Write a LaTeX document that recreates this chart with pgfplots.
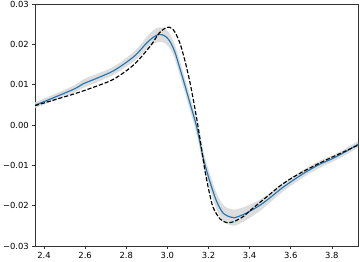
\documentclass[border=0pt]{standalone}
\usepackage{fontspec}
\setmainfont{DejaVu Sans}
\usepackage{pgfplots}
\usepackage{pgfplotstable}
\pgfplotsset{compat=1.18}
\usepgfplotslibrary{fillbetween}

\pgfplotstableread{
x mean lo hi
2.356 0.0049 0.0042 0.0056
2.448 0.0068 0.0060 0.0076
2.546 0.0089 0.0080 0.0098
2.594 0.0103 0.0093 0.0114
2.643 0.0113 0.0103 0.0124
2.740 0.0135 0.0125 0.0145
2.838 0.0170 0.0158 0.0182
2.895 0.0201 0.0186 0.0216
2.925 0.0215 0.0198 0.0232
2.950 0.0223 0.0205 0.0241
2.972 0.0224 0.0206 0.0242
2.995 0.0218 0.0200 0.0236
3.015 0.0205 0.0187 0.0223
3.037 0.0180 0.0162 0.0198
3.061 0.0140 0.0122 0.0158
3.086 0.0097 0.0079 0.0115
3.110 0.0054 0.0036 0.0072
3.142 -0.0004 -0.0022 0.0014
3.175 -0.0083 -0.0101 -0.0065
3.207 -0.0141 -0.0160 -0.0122
3.240 -0.0190 -0.0210 -0.0170
3.272 -0.0219 -0.0239 -0.0199
3.305 -0.0228 -0.0248 -0.0208
3.325 -0.0230 -0.0250 -0.0210
3.350 -0.0226 -0.0245 -0.0207
3.386 -0.0218 -0.0235 -0.0201
3.450 -0.0199 -0.0213 -0.0185
3.500 -0.0180 -0.0192 -0.0168
3.548 -0.0160 -0.0171 -0.0149
3.600 -0.0141 -0.0151 -0.0131
3.669 -0.0118 -0.0127 -0.0109
3.742 -0.0097 -0.0106 -0.0088
3.800 -0.0084 -0.0092 -0.0076
3.860 -0.0068 -0.0076 -0.0060
3.927 -0.0048 -0.0056 -0.0040
}\gpdata

\pgfplotstableread{
x y
2.356 0.0048
2.448 0.0062
2.546 0.0077
2.643 0.0094
2.740 0.0114
2.838 0.0150
2.919 0.0197
2.960 0.0228
2.997 0.0242
3.020 0.0240
3.037 0.0230
3.061 0.0203
3.086 0.0158
3.110 0.0105
3.130 0.0052
3.148 0.0000
3.165 -0.0055
3.185 -0.0120
3.205 -0.0170
3.223 -0.0205
3.256 -0.0233
3.288 -0.0242
3.321 -0.0240
3.369 -0.0227
3.400 -0.0213
3.450 -0.0192
3.500 -0.0171
3.548 -0.0151
3.600 -0.0133
3.669 -0.0113
3.742 -0.0094
3.800 -0.0080
3.860 -0.0066
3.927 -0.0050
}\truedata

\begin{document}
\begin{tikzpicture}
\begin{axis}[
  scale only axis, width=323pt, height=242pt,
  xmin=2.3562, xmax=3.9270, ymin=-0.03, ymax=0.03,
  xtick={2.4,2.6,2.8,3.0,3.2,3.4,3.6,3.8},
  xticklabels={2.4,2.6,2.8,3.0,3.2,3.4,3.6,3.8},
  ytick={-0.03,-0.02,-0.01,0,0.01,0.02,0.03},
  yticklabels={−0.03,−0.02,−0.01,0.00,0.01,0.02,0.03},
  scaled y ticks=false,
  tick align=outside, major tick length=2.7pt,
  tick style={black!80, line width=0.6pt},
  axis line style={black!80, line width=0.6pt},
  ticklabel style={font=\fontsize{8.4}{10}\selectfont, text=black},
  xtick pos=bottom, ytick pos=left,
]
\addplot[name path=U, draw=none, smooth, tension=0.5] table[x=x, y=hi] {\gpdata};
\addplot[name path=L, draw=none, smooth, tension=0.5] table[x=x, y=lo] {\gpdata};
\addplot[black!15, opacity=0.9] fill between[of=U and L];
\addplot[color={rgb,255:red,31;green,119;blue,180}, line width=1.15pt, smooth, tension=0.5] table[x=x, y=mean] {\gpdata};
\addplot[black, line width=1.15pt, dash pattern=on 4.2pt off 1.9pt, smooth, tension=0.5] table[x=x, y=y] {\truedata};
\end{axis}
\pgfresetboundingbox
\path ([shift={(-35pt,-16pt)}]current axis.south west) rectangle ([shift={(2pt,4pt)}]current axis.north east);
\end{tikzpicture}
\end{document}
